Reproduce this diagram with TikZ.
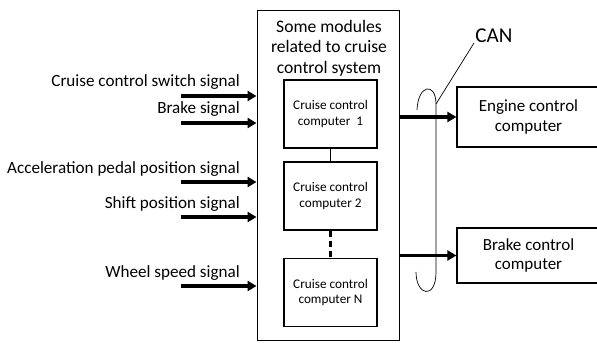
\documentclass[tikz,border=0pt]{standalone}
\usepackage{fontspec}
\setmainfont{Carlito}
\usetikzlibrary{arrows.meta}
\tikzset{
  box/.style={draw,line width=1pt,align=center,inner sep=0pt},
  sig/.style={line width=2.6pt,-{Triangle[length=0.27cm,width=0.3cm]}},
  lbl/.style={anchor=base east,inner sep=0pt,font=\fontsize{14.6}{18}\selectfont},
}
\begin{document}
\begin{tikzpicture}[x=0.03cm,y=-0.03cm]
  \useasboundingbox (0,0) rectangle (597,343);
  % module block with the cruise control computers
  \node[box,line width=0.8pt,minimum width=4.26cm,minimum height=9.9cm] (mod) at (328,175) {};
  \node[align=center,font=\fontsize{15}{17.5}\selectfont] (title) at (329,48) {Some modules\\related to cruise\\control system};
  \foreach \N/\y/\t in {one/114/{\ 1},two/196/2,last/292.5/N}
    \node[box,minimum width=2.79cm,minimum height=2.04cm,font=\fontsize{11.3}{13.6}\selectfont] (cc\N) at (330.5,\y) {Cruise control\\computer \t};
  \draw[line width=0.8pt] (ccone) -- (cctwo);
  \draw[line width=2pt,dash pattern=on 0.18cm off 0.12cm] (cctwo) -- (cclast);
  % input signals
  \foreach \n/\y/\t in {a/96/Cruise control switch signal,b/123/Brake signal,c/182/Acceleration pedal position signal,d/217/Shift position signal,e/286/Wheel speed signal} {
    \coordinate (in\n) at (181,\y);
    \node[lbl] (lbl\n) at (240,\y-9) {\t};
    \draw[sig] (in\n) -- (in\n -| mod.west);
  }
  % computers on the bus
  \node[box,minimum width=4.29cm,minimum height=1.8cm,font=\fontsize{14.5}{16.5}\selectfont] (engine) at (528.5,117) {Engine control\\computer};
  \node[box,minimum width=4.29cm,minimum height=1.65cm,font=\fontsize{14.5}{16.5}\selectfont] (brake) at (528.5,255.5) {Brake control\\computer};
  \draw[sig] (mod.east |- engine.west) -- (engine.west);
  \draw[sig] (mod.east |- brake.west) -- (brake.west);
  % CAN loop
  \draw[line width=0.6pt] (417,110) .. controls (418,84) and (436,82) .. (436,104) coordinate (bus) -- (436,272) .. controls (436,300) and (416,296) .. (416,272);
  \node[anchor=base west,inner sep=1pt,font=\fontsize{18}{20}\selectfont] (can) at (474,43) {CAN};
  \draw[line width=0.6pt] (bus) -- (can.base west);
\end{tikzpicture}
\end{document}
